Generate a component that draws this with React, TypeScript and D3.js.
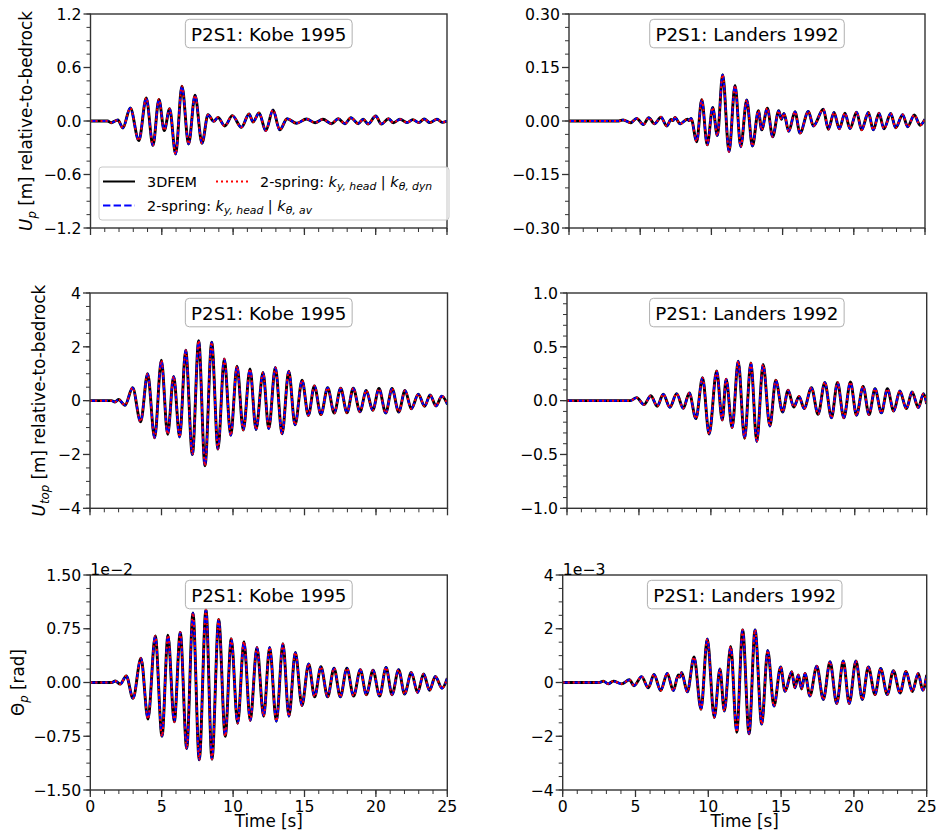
import React from "react";
import * as d3 from "d3";

const FONT = "DejaVu Sans, Liberation Sans, sans-serif";

// ---------- axis ticks & labels ----------
const timeTicks = [0, 5, 10, 15, 20, 25];
const timeTickLabels = ["0", "5", "10", "15", "20", "25"];

const upKobeTicks = [-1.2, -0.6, 0, 0.6, 1.2];
const upKobeLabels = ["−1.2", "−0.6", "0.0", "0.6", "1.2"];
const upLandersTicks = [-0.3, -0.15, 0, 0.15, 0.3];
const upLandersLabels = ["−0.30", "−0.15", "0.00", "0.15", "0.30"];
const utopKobeTicks = [-4, -2, 0, 2, 4];
const utopKobeLabels = ["−4", "−2", "0", "2", "4"];
const utopLandersTicks = [-1, -0.5, 0, 0.5, 1];
const utopLandersLabels = ["−1.0", "−0.5", "0.0", "0.5", "1.0"];
const thKobeTicks = [-1.5, -0.75, 0, 0.75, 1.5];
const thKobeLabels = ["−1.50", "−0.75", "0.00", "0.75", "1.50"];
const thLandersTicks = [-4, -2, 0, 2, 4];
const thLandersLabels = ["−4", "−2", "0", "2", "4"];

const titleKobe = "P2S1: Kobe 1995";
const titleLanders = "P2S1: Landers 1992";
const seriesNames = ["3DFEM", "2-spring: k_{y,head} | k_{θ,dyn}", "2-spring: k_{y,head} | k_{θ,av}"];

// ---------- data (turning points) ----------
// U_p Kobe [m]
const kobeUpT = [0, 1.2, 1.45, 1.92, 2.27, 2.79, 3.39, 3.91, 4.38, 4.8, 5.17, 5.55, 5.97, 6.41, 6.88, 7.33, 7.82, 8.24, 8.64, 8.94, 9.41, 9.95, 10.58, 11.12, 11.4, 11.82, 12.29, 12.8, 13.27, 13.79, 14.45, 15.15, 15.75, 16.3, 16.9, 17.37, 17.84, 18.26, 18.77, 19.12, 19.47, 20.0, 20.4, 20.9, 21.24, 21.7, 22.2, 22.6, 23.03, 23.4, 23.8, 24.3, 24.67, 25];
const kobeUpV = [0, 0, -0.019, 0.011, -0.078, 0.146, -0.22, 0.258, -0.273, 0.243, -0.108, 0.138, -0.37, 0.39, -0.258, 0.288, -0.25, 0.071, -0.004, 0.041, -0.056, 0.06, -0.071, 0.078, -0.011, 0.09, -0.108, 0.123, -0.1, 0.026, -0.025, 0.022, -0.019, 0.019, -0.03, 0.026, -0.03, 0.037, -0.03, 0.02, -0.033, 0.056, -0.034, 0.026, -0.02, 0.02, -0.018, 0.015, -0.018, 0.022, -0.018, 0.02, -0.015, 0];

// U_p Landers [m]
const landersUpT = [0, 3.5, 3.8, 4.33, 4.75, 5.22, 5.6, 6.0, 6.46, 6.86, 7.17, 7.3, 7.44, 7.8, 8.31, 8.45, 8.57, 8.97, 9.32, 9.71, 10.09, 10.42, 10.79, 11.24, 11.66, 12.06, 12.48, 12.88, 13.3, 13.53, 13.93, 14.3, 14.73, 14.91, 15.1, 15.43, 15.87, 16.22, 16.81, 17.16, 17.86, 18.21, 18.61, 18.98, 19.38, 19.73, 20.2, 20.55, 21.02, 21.37, 21.77, 22.12, 22.59, 22.94, 23.43, 23.78, 24.25, 24.65, 25];
const landersUpV = [0, 0, 0.003, -0.005, 0.0075, -0.01, 0.0093, -0.008, 0.011, -0.014, 0.004, 0.001, 0.01, -0.008, 0.005, 0.001, 0.0075, -0.058, 0.06, -0.067, 0.038, -0.041, 0.13, -0.086, 0.1, -0.072, 0.059, -0.07, 0.029, -0.025, 0.036, -0.044, 0.029, 0.005, 0.021, -0.029, 0.026, -0.034, 0.027, -0.014, 0.033, -0.023, 0.024, -0.022, 0.022, -0.021, 0.025, -0.025, 0.024, -0.025, 0.022, -0.022, 0.021, -0.019, 0.018, -0.016, 0.017, -0.012, 0.005];

// U_top Kobe [m]
const kobeUtopT = [0, 1.5, 1.75, 1.99, 2.45, 2.98, 3.54, 4.03, 4.52, 4.99, 5.43, 5.85, 6.27, 6.69, 7.16, 7.6, 8.04, 8.51, 8.95, 9.39, 9.84, 10.28, 10.72, 11.19, 11.61, 12.1, 12.5, 12.96, 13.43, 13.9, 14.34, 14.83, 15.27, 15.69, 16.15, 16.62, 17.08, 17.53, 17.97, 18.41, 18.88, 19.32, 19.77, 20.21, 20.68, 21.12, 21.59, 22.03, 22.47, 22.96, 23.4, 23.78, 24.2, 24.6, 25];
const kobeUtopV = [0, 0, -0.05, 0.04, -0.17, 0.48, -0.79, 1.0, -1.38, 1.5, -1.25, 0.9, -1.35, 1.87, -2.0, 2.23, -2.42, 2.17, -1.8, 1.55, -1.29, 1.28, -1.09, 1.18, -1.07, 1.05, -1.04, 1.23, -1.23, 1.09, -0.9, 0.76, -0.55, 0.55, -0.52, 0.48, -0.46, 0.46, -0.45, 0.46, -0.41, 0.38, -0.36, 0.45, -0.46, 0.45, -0.42, 0.38, -0.3, 0.24, -0.21, 0.21, -0.2, 0.17, -0.14];

// U_top Landers [m]
const landersUtopT = [0, 4.4, 4.84, 5.35, 5.83, 6.27, 6.69, 7.15, 7.62, 8.08, 8.5, 8.96, 9.42, 9.88, 10.4, 10.79, 11.06, 11.48, 11.9, 12.34, 12.78, 13.19, 13.63, 14.1, 14.51, 14.98, 15.37, 15.76, 16.13, 16.48, 16.99, 17.45, 17.92, 18.38, 18.8, 19.24, 19.7, 20.12, 20.58, 20.99, 21.41, 21.85, 22.27, 22.71, 23.13, 23.59, 23.98, 24.42, 24.78, 25];
const landersUtopV = [0, 0, 0.028, -0.037, 0.046, -0.052, 0.059, -0.062, 0.065, -0.071, 0.071, -0.167, 0.213, -0.31, 0.275, -0.18, 0.2, -0.25, 0.367, -0.35, 0.35, -0.38, 0.336, -0.235, 0.19, -0.105, 0.096, -0.06, 0.04, -0.074, 0.12, -0.127, 0.17, -0.16, 0.17, -0.16, 0.173, -0.136, 0.133, -0.13, 0.11, -0.114, 0.11, -0.096, 0.09, -0.074, 0.08, -0.065, 0.065, -0.03];

// Theta_p Kobe [1e-2 rad]
const kobeThT = [0, 1.5, 1.75, 2.1, 2.52, 2.99, 3.55, 4.04, 4.55, 5.02, 5.44, 5.88, 6.3, 6.75, 7.19, 7.63, 8.1, 8.52, 8.99, 9.45, 9.87, 10.32, 10.76, 11.2, 11.67, 12.14, 12.56, 13.03, 13.49, 13.91, 14.36, 14.82, 15.29, 15.71, 16.15, 16.62, 17.07, 17.51, 17.97, 18.44, 18.91, 19.33, 19.8, 20.26, 20.71, 21.13, 21.59, 22.01, 22.48, 22.92, 23.34, 23.76, 24.16, 24.63, 25];
const kobeThV = [0, 0, 0.02, -0.023, 0.093, -0.22, 0.34, -0.51, 0.65, -0.75, 0.66, -0.55, 0.7, -0.92, 0.97, -1.08, 1.02, -1.07, 0.88, -0.75, 0.61, -0.57, 0.57, -0.53, 0.49, -0.47, 0.49, -0.54, 0.54, -0.47, 0.42, -0.32, 0.26, -0.2, 0.22, -0.2, 0.2, -0.2, 0.2, -0.19, 0.18, -0.17, 0.17, -0.19, 0.21, -0.17, 0.18, -0.16, 0.14, -0.14, 0.12, -0.11, 0.084, -0.08, 0.06];

// Theta_p Landers [1e-3 rad]
const landersThT = [0, 2.5, 2.79, 3.13, 3.48, 4.05, 4.58, 4.9, 5.42, 5.88, 6.27, 6.73, 7.18, 7.6, 7.94, 8.05, 8.17, 8.56, 9.02, 9.5, 9.93, 10.41, 10.8, 11.1, 11.54, 11.95, 12.36, 12.8, 13.21, 13.67, 14.08, 14.51, 14.97, 15.27, 15.73, 15.95, 16.18, 16.41, 16.64, 16.98, 17.45, 17.9, 18.36, 18.82, 19.27, 19.68, 20.14, 20.58, 20.99, 21.45, 21.84, 22.29, 22.71, 23.17, 23.58, 24.01, 24.42, 24.73, 25];
const landersThV = [0, 0, 0.05, -0.05, 0.05, -0.05, 0.1, -0.12, 0.22, -0.2, 0.3, -0.3, 0.34, -0.3, 0.28, 0.2, 0.37, -0.35, 0.95, -1.0, 1.62, -1.3, 0.5, -1.06, 1.34, -1.85, 1.96, -1.91, 1.96, -1.55, 1.19, -0.88, 0.58, -0.33, 0.4, -0.2, 0.28, -0.24, 0.34, -0.5, 0.61, -0.63, 0.77, -0.78, 0.8, -0.78, 0.8, -0.63, 0.58, -0.45, 0.52, -0.45, 0.44, -0.39, 0.41, -0.34, 0.34, -0.29, 0.28];

// ---------- layout ----------
const W = 940;
const H = 840;
const TICK_FS = 15.7;
const LABEL_FS = 16.8;
const TITLE_FS = 18.3;
const LEGEND_FS = 14.4;

const LAYOUT = [
  { x0: 90.5, x1: 447, y0: 14, y1: 228 },
  { x0: 569, x1: 925, y0: 14, y1: 228 },
  { x0: 90, x1: 447.5, y0: 293, y1: 508.3 },
  { x0: 567, x1: 926.7, y0: 293, y1: 508.3 },
  { x0: 90.3, x1: 447.3, y0: 575, y1: 790 },
  { x0: 562.7, x1: 926.7, y0: 575, y1: 790 },
];

const PANELS = [
  { t: kobeUpT, v: kobeUpV, ymax: 1.2, ticks: upKobeTicks, labels: upKobeLabels, minor: 4, title: titleKobe, offset: "" },
  { t: landersUpT, v: landersUpV, ymax: 0.3, ticks: upLandersTicks, labels: upLandersLabels, minor: 4, title: titleLanders, offset: "" },
  { t: kobeUtopT, v: kobeUtopV, ymax: 4, ticks: utopKobeTicks, labels: utopKobeLabels, minor: 4, title: titleKobe, offset: "" },
  { t: landersUtopT, v: landersUtopV, ymax: 1, ticks: utopLandersTicks, labels: utopLandersLabels, minor: 5, title: titleLanders, offset: "" },
  { t: kobeThT, v: kobeThV, ymax: 1.5, ticks: thKobeTicks, labels: thKobeLabels, minor: 4, title: titleKobe, offset: "1e−2" },
  { t: landersThT, v: landersThV, ymax: 4, ticks: thLandersTicks, labels: thLandersLabels, minor: 4, title: titleLanders, offset: "1e−3" },
];

let _ctx: CanvasRenderingContext2D | null = null;
function textWidth(s: string, fs: number) {
  if (!_ctx) _ctx = document.createElement("canvas").getContext("2d");
  if (!_ctx) return s.length * fs * 0.6;
  _ctx.font = `${fs}px "DejaVu Sans"`;
  return _ctx.measureText(s).width;
}

function Panel({ idx, showX }: { idx: number; showX: boolean }) {
  const L = LAYOUT[idx];
  const P = PANELS[idx];
  const x = d3.scaleLinear().domain([0, 25]).range([L.x0, L.x1]);
  const y = d3.scaleLinear().domain([-P.ymax, P.ymax]).range([L.y1, L.y0]);
  const pts: [number, number][] = P.t.map((t, i) => [t, P.v[i]]);
  const line = d3
    .line<[number, number]>()
    .x((d) => x(d[0]))
    .y((d) => y(d[1]))
    .curve(d3.curveMonotoneX);
  const path = line(pts) || "";
  const nMinor = P.minor * 4;
  const minorY = d3.range(nMinor + 1).map((i) => -P.ymax + (i * 2 * P.ymax) / nMinor);
  const minorX = d3.range(26);
  const clip = `clip${idx}`;
  const tw = textWidth(P.title, TITLE_FS);
  const bw = tw + 11.5;
  const cx = (L.x0 + L.x1) / 2;
  const boxTop = L.y0 + 5.3;
  return (
    <g>
      <defs>
        <clipPath id={clip}>
          <rect x={L.x0} y={L.y0} width={L.x1 - L.x0} height={L.y1 - L.y0} />
        </clipPath>
      </defs>
      <g clipPath={`url(#${clip})`} fill="none">
        <path d={path} stroke="#000" strokeWidth={2.9} />
        <path d={path} stroke="#0000ff" strokeWidth={2} strokeDasharray="7.4,3.2" />
        <path d={path} stroke="#ff0000" strokeWidth={2} strokeDasharray="2,3" />
      </g>
      {/* title box */}
      <rect x={cx - bw / 2} y={boxTop} width={bw} height={28.5} rx={4} ry={4} fill="#fff" fillOpacity={0.85} stroke="#b0b0b0" strokeWidth={1} />
      <text x={cx} y={boxTop + 21.2} textAnchor="middle" fontSize={TITLE_FS} fontFamily={FONT} fill="#000">
        {P.title}
      </text>
      {/* spines */}
      <rect x={L.x0} y={L.y0} width={L.x1 - L.x0} height={L.y1 - L.y0} fill="none" stroke="#333" strokeWidth={1.4} />
      {/* y minor ticks */}
      {minorY.map((v, i) => (
        <line key={"ym" + i} x1={L.x0 - 4} x2={L.x0} y1={y(v)} y2={y(v)} stroke="#333" strokeWidth={1} />
      ))}
      {P.ticks.map((v, i) => (
        <g key={"yt" + i}>
          <line x1={L.x0 - 7} x2={L.x0} y1={y(v)} y2={y(v)} stroke="#333" strokeWidth={1.3} />
          <text x={L.x0 - 9} y={y(v) + 5.7} textAnchor="end" fontSize={TICK_FS} fontFamily={FONT} fill="#000">
            {P.labels[i]}
          </text>
        </g>
      ))}
      {minorX.map((v, i) => (
        <line key={"xm" + i} x1={x(v)} x2={x(v)} y1={L.y1} y2={L.y1 + 4} stroke="#333" strokeWidth={1} />
      ))}
      {timeTicks.map((v, i) => (
        <g key={"xt" + i}>
          <line x1={x(v)} x2={x(v)} y1={L.y1} y2={L.y1 + 7} stroke="#333" strokeWidth={1.3} />
          {showX && (
            <text x={x(v)} y={L.y1 + 21.5} textAnchor="middle" fontSize={TICK_FS} fontFamily={FONT} fill="#000">
              {timeTickLabels[i]}
            </text>
          )}
        </g>
      ))}
      {showX && (
        <text x={cx} y={L.y1 + 37} textAnchor="middle" fontSize={LABEL_FS} fontFamily={FONT} fill="#000">
          Time [s]
        </text>
      )}
      {P.offset && (
        <text x={L.x0} y={L.y0 - 0.5} fontSize={TICK_FS} fontFamily={FONT} fill="#000">
          {P.offset}
        </text>
      )}
    </g>
  );
}

function Legend() {
  const top = 167;
  const left = 99;
  const right = 449;
  const r1 = 181.5;
  const r2 = 205.5;
  const sub = LEGEND_FS * 0.75;
  const mathLabel = (a: string, b: string) => (
    <>
      <tspan>2-spring: </tspan>
      <tspan fontStyle="italic">k</tspan>
      <tspan fontStyle="italic" fontSize={sub} dy={3}>{a}</tspan>
      <tspan dy={-3}> | </tspan>
      <tspan fontStyle="italic">k</tspan>
      <tspan fontStyle="italic" fontSize={sub} dy={3}>{b}</tspan>
    </>
  );
  return (
    <g fontFamily={FONT} fontSize={LEGEND_FS}>
      <rect x={left} y={top} width={right - left} height={53} rx={3} ry={3} fill="#fff" fillOpacity={0.8} stroke="#c8c8c8" strokeWidth={1} />
      <line x1={103} x2={135} y1={r1} y2={r1} stroke="#000" strokeWidth={2} />
      <text x={147} y={r1 + 5} fill="#000">{seriesNames[0]}</text>
      <line x1={216} x2={248} y1={r1} y2={r1} stroke="#ff0000" strokeWidth={2} strokeDasharray="2,3" />
      <text x={260} y={r1 + 5} fill="#000">{mathLabel("y, head", "θ, dyn")}</text>
      <line x1={103} x2={135} y1={r2} y2={r2} stroke="#0000ff" strokeWidth={2} strokeDasharray="7.4,3.2" />
      <text x={147} y={r2 + 5} fill="#000">{mathLabel("y, head", "θ, av")}</text>
    </g>
  );
}

function YLabel({ x, y, main, sub, rest, italicMain }: { x: number; y: number; main: string; sub: string; rest: string; italicMain: boolean }) {
  return (
    <text transform={`translate(${x},${y}) rotate(-90)`} textAnchor="middle" fontSize={LABEL_FS} fontFamily={FONT} fill="#000">
      <tspan fontStyle={italicMain ? "italic" : "normal"}>{main}</tspan>
      <tspan fontStyle="italic" fontSize={LABEL_FS * 0.7} dy={4}>{sub}</tspan>
      <tspan dy={-4}>{rest}</tspan>
    </text>
  );
}

export default function App() {
  return (
    <svg width={W} height={H} viewBox={`0 0 ${W} ${H}`} style={{ position: "absolute", left: 0, top: 0, background: "#fff" }}>
      <rect x={0} y={0} width={W} height={H} fill="#fff" />
      {PANELS.map((_, i) => (
        <Panel key={i} idx={i} showX={i >= 4} />
      ))}
      <Legend />
      <YLabel x={32} y={121} main="U" sub="p" rest=" [m] relative-to-bedrock" italicMain={true} />
      <YLabel x={45} y={400.6} main="U" sub="top" rest=" [m] relative-to-bedrock" italicMain={true} />
      <YLabel x={23.5} y={682.5} main="Θ" sub="p" rest=" [rad]" italicMain={false} />
    </svg>
  );
}
